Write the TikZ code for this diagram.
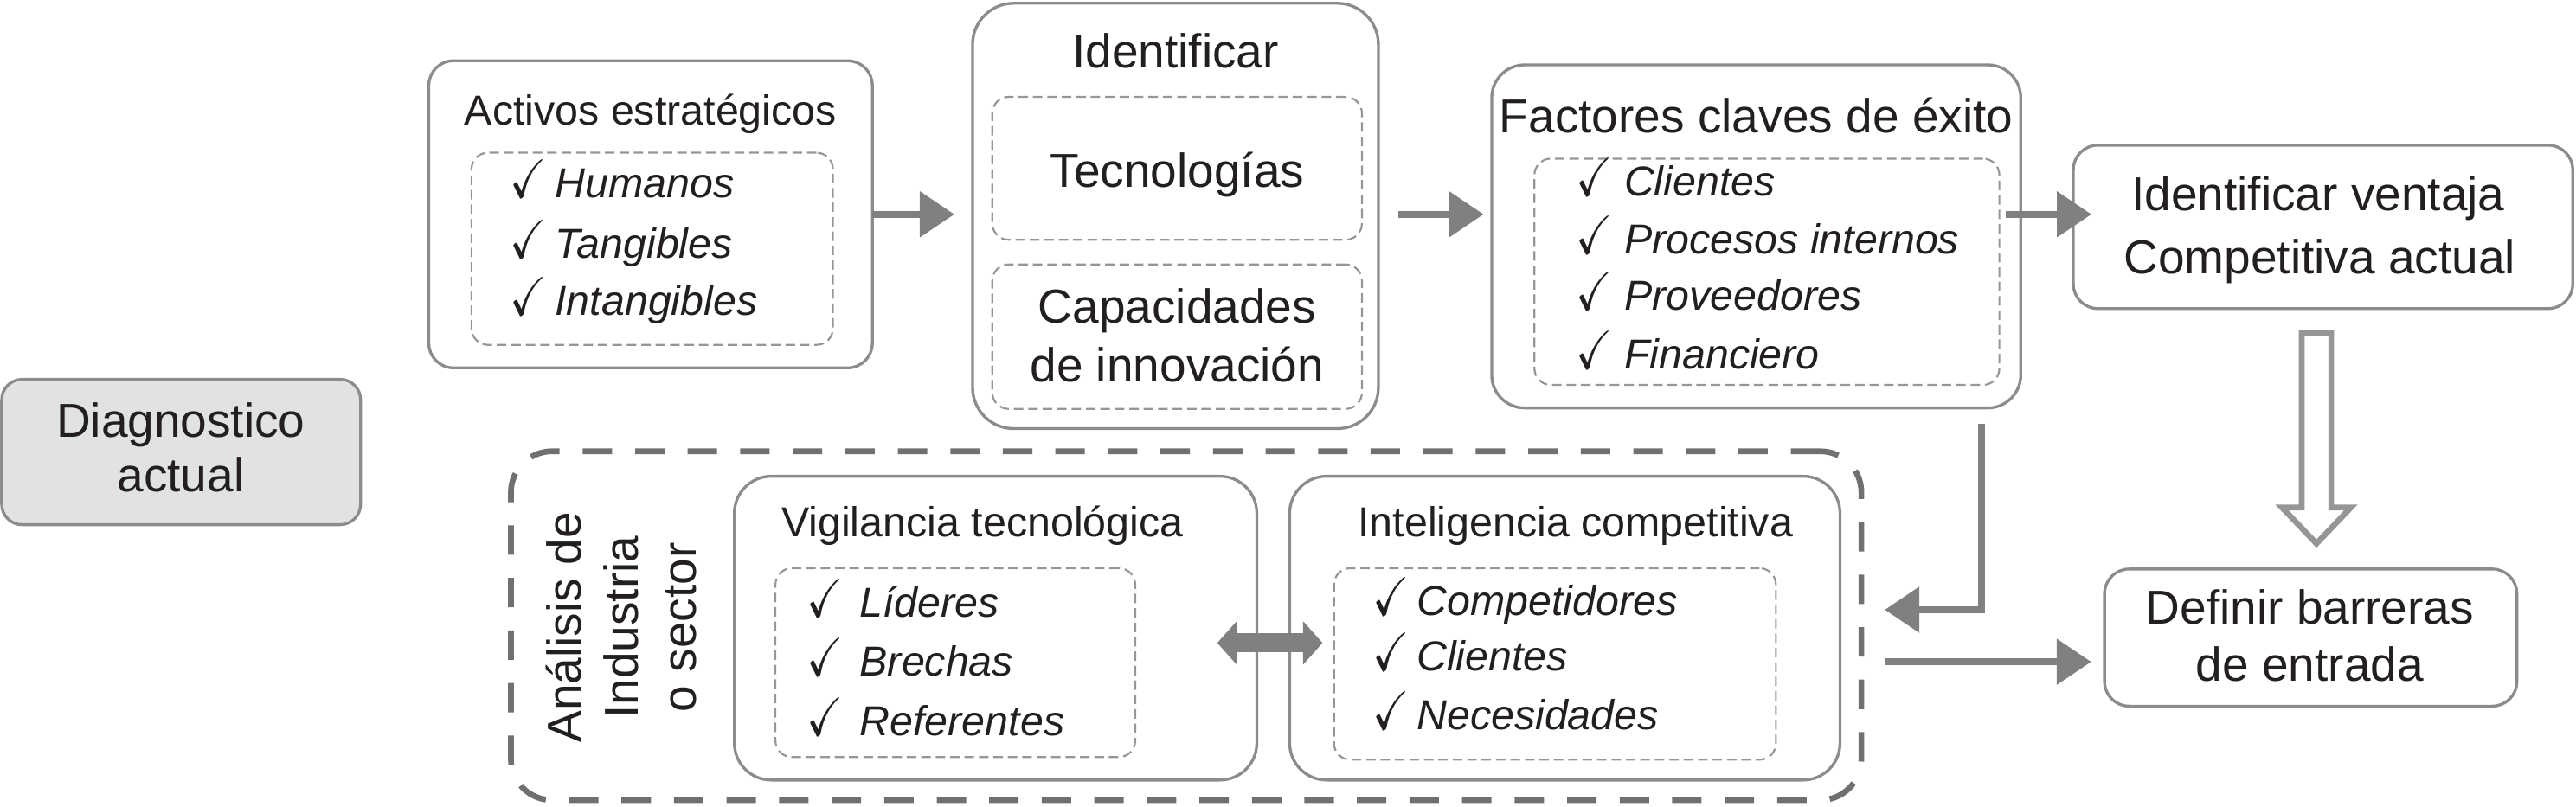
\documentclass[tikz,border=0pt]{standalone}
\usepackage{amssymb}
\usepackage{graphicx}
\usepackage{fontspec}
\setmainfont{Liberation Sans}
\usetikzlibrary{arrows.meta,fit,calc}
\definecolor{boxgray}{RGB}{140,140,140}
\definecolor{dashgray}{RGB}{150,150,150}
\definecolor{arrowgray}{RGB}{128,128,128}
\definecolor{bigdash}{RGB}{112,112,112}
\definecolor{hollowgray}{RGB}{150,150,150}
\definecolor{diagfill}{RGB}{225,226,228}
\definecolor{txt}{RGB}{35,31,32}
\newcommand{\fbig}{\fontsize{16.5pt}{19pt}\selectfont}
\newcommand{\fsmall}{\fontsize{14.5pt}{17pt}\selectfont}
\newcommand{\chk}[1]{\makebox[#1][l]{\scalebox{1.05}[1.3]{$\checkmark$}}}
\begin{document}
\begin{tikzpicture}[x=0.02cm,y=-0.02cm,
  box/.style={draw=boxgray, line width=1pt, inner sep=0pt, outer sep=0pt},
  inbox/.style={draw=dashgray, line width=0.65pt, dash pattern=on 3.3pt off 1.7pt, rounded corners=0.2cm, inner sep=0pt, outer sep=0pt},
  bigbox/.style={draw=bigdash, line width=2pt, dash pattern=on 10.2pt off 8pt, rounded corners=0.5cm, inner sep=0pt, outer sep=0pt},
  lbl/.style={text=txt, font=\fbig, inner sep=0pt, anchor=base},
  slbl/.style={text=txt, font=\fsmall, inner sep=0pt, anchor=base},
  itm/.style={text=txt, font=\fsmall\itshape, inner sep=0pt, anchor=base west},
  garrow/.style={draw=arrowgray, line width=2.5pt, -{Triangle[length=12pt,width=15.4pt]}},
  dblarrow/.style={draw=arrowgray, line width=6.5pt, {Triangle[length=6.8pt,width=14.8pt]}-{Triangle[length=6.8pt,width=14.8pt]}},
  hollow/.style={draw=hollowgray, line width=2pt, fill=white, line join=miter},
]
\useasboundingbox (0,0) rectangle (1568,491);

% Diagnostico actual
\node[box, rounded corners=0.25cm, fill=diagfill, fit={(1,231)(219.5,319.5)}] (diag) {};
\node[lbl] (diag1) at (110,266) {Diagnostico};
\node[lbl] (diag2) at (110,299.3) {actual};

% Activos estrategicos
\node[box, rounded corners=0.3cm, fit={(261,37)(531,224)}] (act) {};
\node[inbox, fit={(287,93)(507,210)}] (actin) {};
\node[slbl] (actt) at (396,76) {Activos estratégicos};
\node[itm] (act1) at (310,120.3) {\chk{0.55cm}Humanos};
\node[itm] (act2) at (310,157.1) {\chk{0.55cm}Tangibles};
\node[itm] (act3) at (310,192.2) {\chk{0.55cm}Intangibles};

% Identificar
\node[box, rounded corners=0.5cm, fit={(592,2)(839,261)}] (ide) {};
\node[inbox, fit={(604,59)(829,146)}] (ide1) {};
\node[inbox, fit={(604,161)(829,249)}] (ide2) {};
\node[lbl] (idet) at (715.5,41.3) {Identificar};
\node[lbl] (idet1) at (716.5,114.1) {Tecnologías};
\node[lbl] (idet2) at (716.5,196.6) {Capacidades};
\node[lbl] (idet3) at (716.5,232.6) {de innovación};

% Factores claves de exito
\node[box, rounded corners=0.4cm, fit={(908,39.5)(1230,248.4)}] (fac) {};
\node[inbox, fit={(934,96.6)(1217,234.4)}] (facin) {};
\node[lbl] (fact) at (1069,80.8) {Factores claves de éxito};
\node[itm] (fac1) at (959,119.4) {\chk{0.586cm}Clientes};
\node[itm] (fac2) at (959,154.5) {\chk{0.586cm}Procesos internos};
\node[itm] (fac3) at (959,188.7) {\chk{0.586cm}Proveedores};
\node[itm] (fac4) at (959,224.7) {\chk{0.586cm}Financiero};

% Identificar ventaja
\node[box, rounded corners=0.3cm, fit={(1262,88.4)(1566,187.9)}] (ven) {};
\node[lbl] (ven1) at (1411,128.2) {Identificar ventaja};
\node[lbl] (ven2) at (1412,166.5) {Competitiva actual};

% Definir barreras
\node[box, rounded corners=0.3cm, fit={(1281,346.5)(1532,430)}] (def) {};
\node[lbl] (def1) at (1406,379.8) {Definir barreras};
\node[lbl] (def2) at (1406,414.9) {de entrada};

% Analisis de industria
\node[bigbox, fit={(311,274.8)(1133,487.2)}] (big) {};
\node[lbl, rotate=90] (v1) at (353.8,382) {Análisis de};
\node[lbl, rotate=90] (v2) at (388.7,382) {Industria};
\node[lbl, rotate=90] (v3) at (423.7,382) {o sector};

% Vigilancia tecnologica
\node[box, rounded corners=0.45cm, fit={(447,290)(765,475)}] (vig) {};
\node[inbox, fit={(472,346)(691,461)}] (vigin) {};
\node[slbl] (vigt) at (598,326.6) {Vigilancia tecnológica};
\node[itm] (vig1) at (491,375.7) {\chk{0.64cm}Líderes};
\node[itm] (vig2) at (491,411.7) {\chk{0.64cm}Brechas};
\node[itm] (vig3) at (491,447.7) {\chk{0.64cm}Referentes};

% Inteligencia competitiva
\node[box, rounded corners=0.45cm, fit={(785,290)(1120,475)}] (int) {};
\node[inbox, fit={(812,346)(1081,462.6)}] (intin) {};
\node[slbl] (intt) at (959,326.6) {Inteligencia competitiva};
\node[itm] (int1) at (835,374.8) {\chk{0.54cm}Competidores};
\node[itm] (int2) at (835,408.2) {\chk{0.54cm}Clientes};
\node[itm] (int3) at (835,444.2) {\chk{0.54cm}Necesidades};

% Connectors
\draw[garrow, shorten >=6.3pt] (act.east) -- (ide.west |- act.east);
\draw[garrow, shorten <=6.8pt, shorten >=2.8pt] (ide.east |- act.east) -- (fac.west |- act.east);
\draw[garrow, shorten <=2.3pt, shorten >=-6.3pt] (facin.east |- act.east) -- (ven.west |- act.east);

\coordinate (bend) at (1206,371.3);
\draw[garrow, shorten <=5.5pt, shorten >=8.1pt] (bend |- fac.south) -- (bend) -- (bend -| big.east);

\coordinate (a4y) at (1140,403);
\draw[garrow, shorten <=8.1pt, shorten >=4.6pt] (big.east |- a4y) -- (def.west |- a4y);

\coordinate (dy) at (775,391.5);
\draw[dblarrow, shorten <=-13.7pt, shorten >=-11.4pt] (vig.east |- dy) -- (int.west |- dy);

% Hollow arrow
\draw[hollow] (1401,203) -- (1419,203) -- (1419,309) -- (1431,309) -- (1410,331) -- (1389,309) -- (1401,309) -- cycle;
\end{tikzpicture}
\end{document}
